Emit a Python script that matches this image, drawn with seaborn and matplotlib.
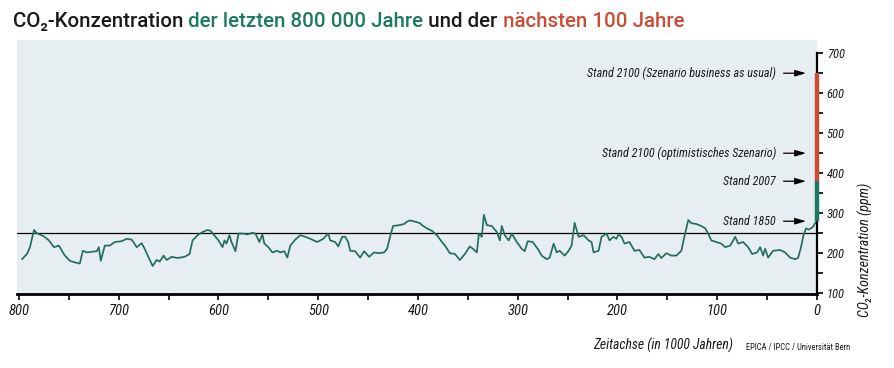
import numpy as np
import pandas as pd
import matplotlib
matplotlib.use("Agg")
import matplotlib.pyplot as plt
import seaborn as sns
from matplotlib.ticker import MultipleLocator

# ---------------- data ----------------
time_kyr = [797, 792, 789, 785, 782, 775, 770, 765, 760, 757, 754, 749, 744, 739, 736, 732, 722, 720, 718, 714,
            709, 704, 697, 692, 687, 682, 677, 674, 670, 666, 662, 659, 655, 652, 647, 641, 634, 629, 626, 621,
            616, 611, 608, 603, 600, 596, 594, 592, 589, 587, 583, 580, 575, 571, 566, 563, 559, 556, 554, 550,
            546, 541, 538, 534, 531, 528, 523, 518, 513, 508, 501, 495, 490, 488, 483, 480, 476, 473, 470, 468,
            463, 458, 454, 449, 444, 439, 434, 431, 428, 425, 419, 414, 411, 408, 403, 398, 396, 391, 386, 381,
            376, 373, 368, 363, 358, 353, 348, 345, 341, 339, 336, 334, 331, 326, 321, 318, 316, 313, 309, 306,
            301, 296, 293, 290, 285, 280, 276, 271, 268, 264, 261, 258, 253, 249, 246, 243, 239, 234, 229, 226,
            224, 219, 216, 211, 208, 204, 201, 199, 196, 193, 188, 183, 178, 173, 168, 163, 159, 156, 151, 146,
            141, 136, 133, 129, 126, 121, 116, 112, 109, 106, 101, 96, 92, 87, 82, 79, 74, 69, 65, 60,
            57, 54, 52, 49, 44, 37, 32, 27, 22, 19, 16, 14, 11, 8, 4, 2, 0]
co2_ppm = [185, 198, 215, 258, 250, 242, 232, 215, 219, 206, 194, 181, 177, 174, 206, 202, 205, 215, 181, 219,
           219, 228, 230, 236, 234, 215, 225, 211, 189, 168, 183, 179, 194, 183, 191, 188, 191, 198, 232, 245,
           253, 258, 256, 241, 232, 215, 232, 224, 245, 228, 205, 249, 249, 247, 251, 249, 228, 247, 224, 215,
           202, 206, 202, 205, 189, 219, 234, 245, 241, 236, 228, 236, 249, 232, 228, 217, 241, 241, 228, 206,
           205, 189, 205, 191, 202, 200, 202, 211, 241, 268, 270, 273, 279, 282, 279, 275, 270, 262, 256, 245,
           228, 219, 200, 198, 183, 198, 217, 211, 202, 249, 241, 296, 270, 268, 253, 232, 268, 245, 232, 249,
           228, 211, 205, 230, 228, 211, 194, 185, 189, 224, 202, 206, 194, 206, 219, 276, 241, 245, 232, 228,
           202, 206, 241, 249, 232, 241, 236, 247, 241, 224, 228, 206, 208, 189, 191, 185, 198, 188, 200, 194,
           194, 206, 241, 283, 275, 273, 268, 262, 249, 232, 228, 224, 215, 219, 241, 224, 228, 215, 198, 202,
           215, 194, 211, 189, 206, 208, 202, 189, 185, 188, 215, 241, 262, 259, 266, 275, 280]

markers = ["Stand 2100 (Szenario business as usual)", "Stand 2100 (optimistisches Szenario)",
           "Stand 2007", "Stand 1850"]
marker_ppm = [650, 450, 380, 280]
reference_ppm = 250

x_ticks = [800, 700, 600, 500, 400, 300, 200, 100, 0]
y_ticks = [100, 200, 300, 400, 500, 600, 700]

title_parts = ["CO\u2082-Konzentration", " der letzten 800 000 Jahre", " und der", " nächsten 100 Jahre"]
title_colors = ["#1a1a1a", "#1b7a5f", "#1a1a1a", "#cc4b35"]

# ---------------- style ----------------
sns.set_theme(style="ticks")
plt.rcParams['font.family'] = ['Roboto', 'DejaVu Sans']
COND = ['Roboto Condensed', 'DejaVu Sans']

BG = "#e6eef1"
LINE = "#236e5f"
RED = "#cc4b35"
GREEN = "#1b7a5f"
INK = "#1a1a1a"

fig = plt.figure(figsize=(8.94, 3.68), dpi=100)
ax = fig.add_axes([17/894, 1-294/368, (817-17)/894, (294-40)/368])
ax.set_facecolor(BG)

df = pd.DataFrame({"t": time_kyr, "co2": co2_ppm})
sns.lineplot(data=df, x="t", y="co2", ax=ax, color=LINE, lw=1.25, sort=False, estimator=None)

ax.axhline(reference_ppm, color="black", lw=0.9, zorder=1)

ax.set_xlim(802, 0)
ax.set_ylim(98, 733)

for s in ["left", "top"]:
    ax.spines[s].set_visible(False)
ax.spines["bottom"].set_linewidth(2.0)
ax.spines["bottom"].set_color("black")
ax.spines["right"].set_linewidth(1.6)
ax.spines["right"].set_color("black")
ax.spines["right"].set_bounds(98, 700)

# coloured segments of the right axis
ax.plot([0, 0], [marker_ppm[2], marker_ppm[0]], color=RED, lw=3.2, clip_on=False, solid_capstyle="butt", zorder=5)
ax.plot([0, 0], [marker_ppm[3], marker_ppm[2]], color=GREEN, lw=3.2, clip_on=False, solid_capstyle="butt", zorder=5)

ax.yaxis.tick_right()
ax.set_xticks(x_ticks)
ax.set_yticks(y_ticks)
ax.xaxis.set_minor_locator(MultipleLocator(50))
ax.yaxis.set_minor_locator(MultipleLocator(50))
ax.tick_params(axis="x", which="both", direction="out", length=4, width=1.2, color="black", pad=3)
ax.tick_params(axis="y", which="both", direction="out", length=4, width=1.2, color="black", pad=3)
ax.set_xticklabels([str(v) for v in x_ticks], fontsize=10.5, style="italic", family=COND, color=INK)
ax.set_yticklabels([str(v) for v in y_ticks], fontsize=9, style="italic", family=COND, color=INK)
ax.set_xlabel("")
ax.set_ylabel("")

fig.canvas.draw()
renderer = fig.canvas.get_renderer()


def fit_width(t, target_px, horizontal=True):
    bb = t.get_window_extent(renderer=renderer)
    cur = bb.width if horizontal else bb.height
    t.set_fontsize(t.get_fontsize() * target_px / cur)


for label, v in zip(markers, marker_ppm):
    ax.annotate(label, xy=(11, v), xytext=(41, v), ha="right", va="center",
                fontsize=8.7, style="italic", family=COND, color=INK,
                arrowprops=dict(arrowstyle="-|>,head_length=0.75,head_width=0.22", color="black",
                                lw=0.9, shrinkA=3, shrinkB=0))

# title pieces, fitted to total width 670 px
x0 = 13
size = 12
pieces = []
x = x0 / 894
for txt, col in zip(title_parts, title_colors):
    t = fig.text(x, 1-27/368, txt, color=col, fontsize=size, fontweight=500, va="baseline", ha="left")
    pieces.append(t)
    bb = t.get_window_extent(renderer=renderer)
    x = bb.x1 / fig.bbox.width
total = x * 894 - x0
new_size = size * 670 / total
x = x0 / 894
for t in pieces:
    t.set_fontsize(new_size)
    t.set_x(x)
    bb = t.get_window_extent(renderer=renderer)
    x = bb.x1 / fig.bbox.width

xl = fig.text(733/894, 1-345/368, "Zeitachse (in 1000 Jahren)", fontsize=10, style="italic",
              family=COND, ha="right", va="center", color=INK)
fit_width(xl, 140)
src = fig.text(746/894, 1-348/368, "EPICA / IPCC / Universität Bern", fontsize=7, family=COND,
               ha="left", va="center", color=INK)
fit_width(src, 105)
yl = fig.text(865/894, 1-250/368, "CO\u2082-Konzentration (ppm)", rotation=90, fontsize=9, style="italic",
              family=COND, ha="center", va="center", color=INK)
fit_width(yl, 134, horizontal=False)

fig.savefig("out.png", dpi=100, facecolor="white")
